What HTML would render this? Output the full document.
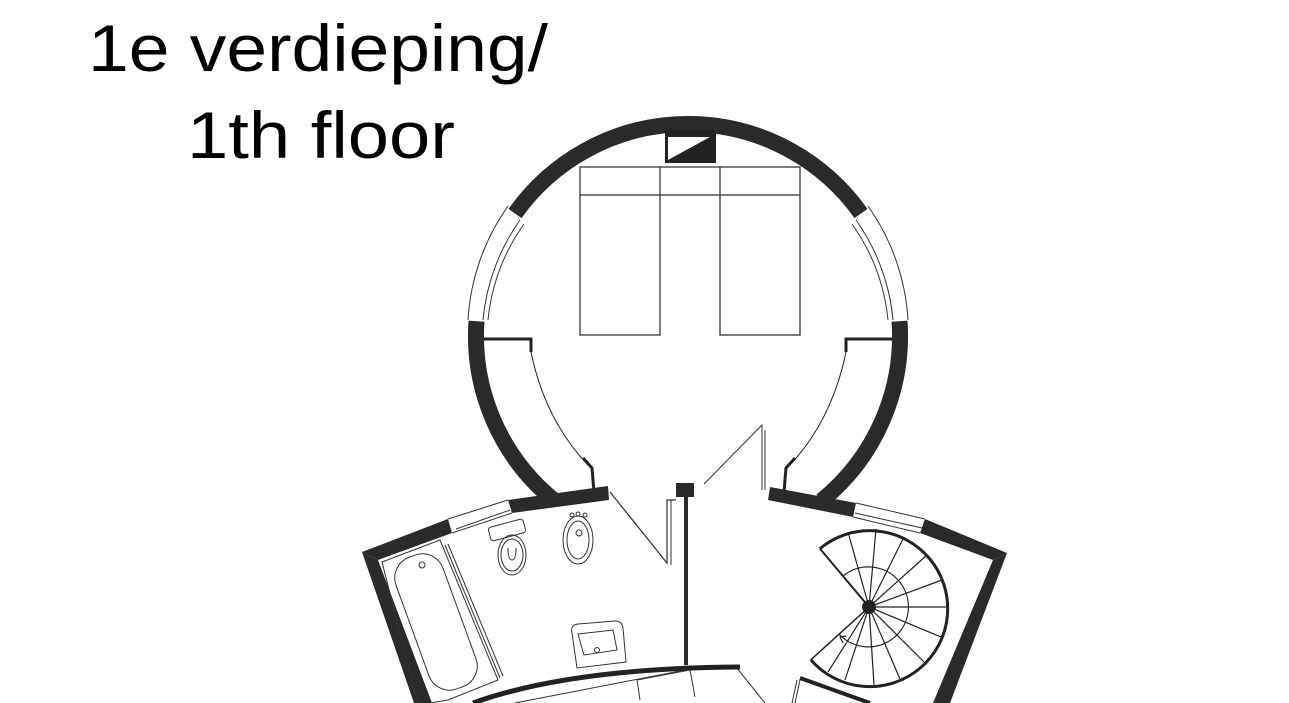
<!DOCTYPE html>
<html><head><meta charset="utf-8"><style>
html,body{margin:0;padding:0;background:#fff;}
svg{display:block}
text{font-family:"Liberation Sans",sans-serif;fill:#000}
</style></head><body>
<svg width="1289" height="703" viewBox="0 0 1289 703" xmlns="http://www.w3.org/2000/svg">
<rect width="1289" height="703" fill="#fff"/>
<text x="88" y="71" font-size="66" textLength="460" lengthAdjust="spacingAndGlyphs">1e verdieping/</text>
<text x="187" y="158" font-size="66" textLength="268" lengthAdjust="spacingAndGlyphs">1th floor</text>

<g fill="none" stroke="#2a2a2a" stroke-linecap="butt">
<path d="M515,213.5 A212,212 0 0 1 861,213.5" stroke-width="16"/>
<path d="M476.5,321.2 A212,212 0 0 0 554.6,500.8" stroke-width="16"/>
<path d="M899.5,321.2 A212,212 0 0 1 821.4,500.8" stroke-width="16"/>
</g>
<g fill="none" stroke="#333" stroke-width="1">
<path d="M508,206 A220,220 0 0 0 468,320"/>
<path d="M520,220 A205,205 0 0 0 483,320"/>
<path d="M524,224 A200,200 0 0 0 488,320"/>
<path d="M868,206 A220,220 0 0 1 908,320"/>
<path d="M856,220 A205,205 0 0 1 893,320"/>
<path d="M852,224 A200,200 0 0 1 888,320"/>
</g>
<rect x="665" y="130" width="51" height="33" fill="#222"/>
<polygon points="668,160 710,137 668,137" fill="#fff"/>
<g fill="none" stroke="#333" stroke-width="1.3">
<rect x="580" y="167" width="80" height="168"/>
<rect x="720" y="167" width="80" height="168"/>
<line x1="660" y1="167" x2="720" y2="167"/>
<line x1="580" y1="195" x2="800" y2="195"/>
</g>
<g fill="none" stroke="#222">
<path d="M484,339 H531 V352" stroke-width="3"/>
<path d="M531,352 Q545,420 588,465" stroke-width="1"/>
<path d="M583,458 L592,468 L594,492" stroke-width="3"/>
<path d="M893,339 H846 V352" stroke-width="3"/>
<path d="M846,352 Q832,420 790,465" stroke-width="1"/>
<path d="M795,458 L786,468 L784,492" stroke-width="3"/>
</g>
<g fill="#2a2a2a">
<polygon points="508,500 608,486 609,500 512,513"/>
<polygon points="362,552 448,519 452,533 378,560"/>
<polygon points="362,552 378,560 432,703 414,703"/>
<polygon points="770,487 856,503 853,517 768,500"/>
<polygon points="925,519 1007,553 993,560 920,533"/>
<polygon points="1007,553 993,560 933,703 950,703"/>
<rect x="676" y="483" width="18" height="14"/>
<rect x="684" y="497" width="4" height="168"/>
</g>
<g fill="none" stroke="#333" stroke-width="1">
<line x1="448" y1="519" x2="508" y2="500"/>
<line x1="452" y1="533" x2="512" y2="513"/>
<line x1="456" y1="529" x2="510" y2="510"/>
<line x1="856" y1="503" x2="925" y2="519"/>
<line x1="853" y1="517" x2="920" y2="533"/>
<line x1="855" y1="513" x2="922" y2="528"/>
<path d="M610,492 L667,563 L667,500 L676,500" stroke-width="1.2"/>
<path d="M671,500 V565" />
<path d="M704,484 L762,425 L762,490"/>
<path d="M765,430 V490"/>
<path d="M736,667 L765,703"/>
<path d="M800,680 L795,703"/>
<path d="M797,680 L792,703"/>
</g>
<path d="M473,703 Q570,668 740,667" fill="none" stroke="#222" stroke-width="5"/>
<path d="M800,678 L870,703" fill="none" stroke="#222" stroke-width="4"/>
<g fill="none" stroke="#333" stroke-width="1">
<path d="M515,703 L685,670"/>
<path d="M640,700 L637,680 L690,670 L695,697"/>
<polygon points="382,562 440,540 498,680 448,700 430,703 418,703"/>
<rect x="-25" y="-70" width="50" height="140" rx="22" transform="translate(436,622) rotate(-20)"/>
<line x1="445" y1="545" x2="500" y2="678"/>
<line x1="448" y1="544" x2="503" y2="676"/>
<circle cx="422" cy="565" r="3"/>
<rect x="-18" y="-7" width="36" height="14" rx="3" transform="translate(507,530) rotate(-15)"/>
<ellipse cx="512" cy="555" rx="14" ry="20"/>
<ellipse cx="512" cy="555" rx="11" ry="16"/>
<path d="M508,548 Q508,560 512,560 Q516,560 516,548"/>
<ellipse cx="578" cy="540" rx="15" ry="24"/>
<ellipse cx="578" cy="540" rx="11" ry="19"/>
<circle cx="579" cy="533" r="3"/>
<circle cx="572" cy="515" r="2"/><circle cx="578" cy="514" r="2"/><circle cx="585" cy="515" r="2"/>
<path d="M572,633 Q570,625 578,624 L615,621 Q622,621 623,628 L626,662 L577,668 Z"/>
<path d="M578,634 L613,630 L617,650 L584,655 Z"/>
<circle cx="597" cy="650" r="2.5"/>
</g>
<g fill="none" stroke="#222">
<path d="M819.9,548.6 A78,78 0 1 1 810.8,659.8" stroke-width="3"/>
<line x1="869" y1="607" x2="819.9" y2="548.6" stroke-width="2"/>
<line x1="869" y1="607" x2="810.8" y2="659.8" stroke-width="1.5"/>
<path d="M843,576 A40,40 0 1 1 839,634" stroke-width="1.2"/>
<g stroke-width="1.2">
<line x1="869" y1="607" x2="848" y2="532"/>
<line x1="869" y1="607" x2="876" y2="529"/>
<line x1="869" y1="607" x2="904" y2="537"/>
<line x1="869" y1="607" x2="927" y2="555"/>
<line x1="869" y1="607" x2="942" y2="580"/>
<line x1="869" y1="607" x2="947" y2="607"/>
<line x1="869" y1="607" x2="941" y2="637"/>
<line x1="869" y1="607" x2="924" y2="662"/>
<line x1="869" y1="607" x2="900" y2="679"/>
<line x1="869" y1="607" x2="874" y2="685"/>
<line x1="869" y1="607" x2="845" y2="680"/>
<line x1="869" y1="607" x2="828" y2="672"/>
<path d="M846,636 L840,637 L843,643"/>
</g>
</g>
<circle cx="869" cy="607" r="7" fill="#222"/>
</svg>
</body></html>
